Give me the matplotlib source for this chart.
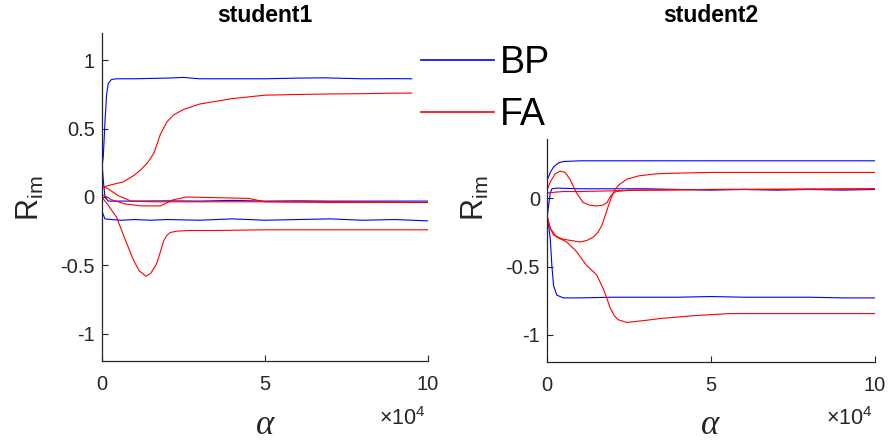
import numpy as np
import matplotlib
matplotlib.use('Agg')
import matplotlib.pyplot as plt
from matplotlib.lines import Line2D

plt.rcParams['font.family'] = ['Liberation Sans', 'DejaVu Sans']
plt.rcParams['mathtext.fontset'] = 'custom'
plt.rcParams['mathtext.rm'] = 'Liberation Sans'
plt.rcParams['mathtext.it'] = 'Liberation Sans:italic'
plt.rcParams['axes.unicode_minus'] = False

# alpha in units of 1e4, R_im values
# ---- student1 ----
s1_bp_top_x = [0, 0.05, 0.1, 0.15, 0.2, 0.3, 0.45, 1, 2, 2.5, 3, 4, 5, 6, 6.8, 8, 9, 9.5]
s1_bp_top_y = [0.20, 0.30, 0.55, 0.75, 0.83, 0.86, 0.865, 0.865, 0.87, 0.875, 0.865, 0.865, 0.865, 0.87, 0.872, 0.865, 0.866, 0.865]
s1_bp_mid_x = [0, 0.05, 0.1, 0.2, 0.4, 1, 2, 3, 4, 5, 6, 7, 8, 9, 10]
s1_bp_mid_y = [0.28, 0.12, 0.0, -0.03, -0.03, -0.03, -0.028, -0.03, -0.025, -0.03, -0.028, -0.03, -0.03, -0.03, -0.03]
s1_bp_low_x = [0, 0.1, 0.3, 0.6, 1, 1.5, 2, 3, 4, 5, 6, 7, 8, 9, 10]
s1_bp_low_y = [-0.10, -0.16, -0.165, -0.17, -0.165, -0.17, -0.165, -0.17, -0.16, -0.17, -0.165, -0.16, -0.17, -0.165, -0.175]

s1_fa_top_x = [0, 0.3, 0.66, 1.0, 1.2, 1.4, 1.6, 1.8, 2.0, 2.2, 2.5, 3.0, 3.5, 4.0, 5, 6, 7, 8, 9, 9.5]
s1_fa_top_y = [0.07, 0.09, 0.11, 0.16, 0.20, 0.25, 0.32, 0.46, 0.55, 0.60, 0.64, 0.68, 0.70, 0.72, 0.745, 0.75, 0.754, 0.756, 0.76, 0.76]
s1_fa_mida_x = [0, 0.2, 0.5, 0.9, 1.5, 3, 5, 7, 10]
s1_fa_mida_y = [0.08, 0.06, 0.01, -0.03, -0.035, -0.035, -0.035, -0.04, -0.04]
s1_fa_midb_x = [0, 0.3, 0.7, 1.2, 1.8, 2.2, 2.6, 3.5, 4.5, 5, 7, 10]
s1_fa_midb_y = [0.02, -0.02, -0.05, -0.065, -0.065, -0.02, 0.0, -0.005, -0.01, -0.035, -0.035, -0.04]
s1_fa_low_x = [0, 0.2, 0.46, 0.7, 0.97, 1.15, 1.35, 1.5, 1.68, 1.8, 1.9, 2.0, 2.1, 2.3, 2.7, 3.5, 5, 7, 10]
s1_fa_low_y = [0.0, -0.06, -0.15, -0.30, -0.46, -0.54, -0.58, -0.56, -0.49, -0.40, -0.32, -0.28, -0.26, -0.25, -0.245, -0.245, -0.24, -0.24, -0.24]

# ---- student2 ----
s2_bp_top_x = [0, 0.1, 0.2, 0.35, 0.5, 1, 2, 3, 4, 5, 6, 7, 8, 9, 10]
s2_bp_top_y = [0.13, 0.19, 0.23, 0.26, 0.27, 0.275, 0.275, 0.275, 0.275, 0.275, 0.275, 0.275, 0.275, 0.275, 0.275]
s2_bp_mid_x = [0, 0.05, 0.1, 0.15, 0.3, 1, 2, 3, 4, 5, 6, 7, 8, 9, 10]
s2_bp_mid_y = [-0.15, -0.05, 0.04, 0.07, 0.075, 0.07, 0.07, 0.07, 0.065, 0.06, 0.065, 0.06, 0.065, 0.06, 0.065]
s2_bp_low_x = [0, 0.05, 0.1, 0.15, 0.2, 0.3, 0.5, 1, 2, 3, 4, 5, 6, 7, 8, 9, 10]
s2_bp_low_y = [-0.15, -0.2, -0.30, -0.50, -0.64, -0.71, -0.73, -0.73, -0.725, -0.725, -0.725, -0.72, -0.725, -0.725, -0.725, -0.73, -0.73]

s2_fa_flat_x = [0, 0.5, 1, 2, 3, 5, 7, 10]
s2_fa_flat_y = [0.04, 0.05, 0.05, 0.055, 0.06, 0.065, 0.065, 0.07]
s2_fa_hump_x = [0, 0.1, 0.25, 0.4, 0.55, 0.7, 0.9, 1.1, 1.3, 1.52, 1.7, 1.83, 1.95, 2.1, 2.5, 3, 5, 10]
s2_fa_hump_y = [0.06, 0.12, 0.18, 0.20, 0.19, 0.14, 0.04, -0.03, -0.05, -0.056, -0.05, -0.03, 0.02, 0.05, 0.06, 0.06, 0.065, 0.07]
s2_fa_dip_x = [0, 0.1, 0.2, 0.5, 1.0, 1.2, 1.41, 1.55, 1.67, 1.77, 1.87, 1.97, 2.07, 2.2, 2.43, 2.8, 3.34, 4, 5, 7, 10]
s2_fa_dip_y = [-0.12, -0.22, -0.27, -0.30, -0.32, -0.31, -0.285, -0.25, -0.2, -0.13, -0.056, 0.01, 0.065, 0.10, 0.14, 0.165, 0.18, 0.185, 0.19, 0.19, 0.19]
s2_fa_low_x = [0, 0.1, 0.3, 0.6, 0.9, 1.2, 1.51, 1.71, 1.82, 1.92, 2.05, 2.17, 2.43, 3.0, 3.5, 4.5, 5.57, 7, 10]
s2_fa_low_y = [-0.15, -0.22, -0.285, -0.32, -0.39, -0.49, -0.56, -0.66, -0.73, -0.80, -0.86, -0.89, -0.91, -0.895, -0.88, -0.86, -0.845, -0.845, -0.845]

titles = ['student1', 'student2']
legend_labels = ['BP', 'FA']

W, H = 890, 443
fig = plt.figure(figsize=(W / 100, H / 100), dpi=100)

def px(x0, y0, x1, y1):
    # pixel box -> figure rect
    return [x0 / W, 1 - y1 / H, (x1 - x0) / W, (y1 - y0) / H]

ax1 = fig.add_axes(px(101.7, 33, 428, 361))
ax2 = fig.add_axes(px(547, 139, 875, 362))

lw = 0.8
for x, y in [(s1_bp_top_x, s1_bp_top_y), (s1_bp_mid_x, s1_bp_mid_y), (s1_bp_low_x, s1_bp_low_y)]:
    ax1.plot(x, y, color='b', lw=lw)
for x, y in [(s1_fa_top_x, s1_fa_top_y), (s1_fa_mida_x, s1_fa_mida_y),
             (s1_fa_midb_x, s1_fa_midb_y), (s1_fa_low_x, s1_fa_low_y)]:
    ax1.plot(x, y, color='r', lw=lw)

for x, y in [(s2_bp_top_x, s2_bp_top_y), (s2_bp_mid_x, s2_bp_mid_y), (s2_bp_low_x, s2_bp_low_y)]:
    ax2.plot(x, y, color='b', lw=lw)
for x, y in [(s2_fa_flat_x, s2_fa_flat_y), (s2_fa_hump_x, s2_fa_hump_y),
             (s2_fa_dip_x, s2_fa_dip_y), (s2_fa_low_x, s2_fa_low_y)]:
    ax2.plot(x, y, color='r', lw=lw)

ax1.set_ylim(-1.2, 1.2)
ax1.set_yticks([-1, -0.5, 0, 0.5, 1])
ax1.set_yticklabels(['-1', '-0.5', '0', '0.5', '1'])
ax2.set_ylim(-1.2, 0.435)
ax2.set_yticks([-1, -0.5, 0])
ax2.set_yticklabels(['-1', '-0.5', '0'])

grey = '#262626'
for ax in (ax1, ax2):
    ax.set_xlim(0, 10)
    ax.set_xticks([0, 5, 10])
    ax.set_xticklabels(['0', '5', '10'])
    for s in ('top', 'right'):
        ax.spines[s].set_visible(False)
    for s in ('left', 'bottom'):
        ax.spines[s].set_color(grey)
        ax.spines[s].set_linewidth(0.9)
    ax.tick_params(direction='in', length=4, width=0.8, colors=grey, labelsize=14.5)
    ax.tick_params(axis='x', pad=10)
    ax.tick_params(axis='y', pad=5)

# titles, labels
for cx, t in zip([265, 711], titles):
    fig.text(cx / W, 1 - 16 / H, t, ha='center', va='center', fontsize=16.5, fontweight='bold')
for cx in [265, 710]:
    fig.text(cx / W, 1 - 434 / H, '\u03b1', ha='center', va='baseline', fontsize=25,
             family='Liberation Serif', style='italic', color=grey)
for rx in [426, 873]:
    fig.text(rx / W, 1 - 425 / H, r'$\times$10$^{4}$', ha='right', va='baseline',
             fontsize=15.5, color=grey)
for cx, cy in [(30, 198), (475, 198)]:
    fig.text(cx / W, 1 - cy / H, r'R$_{\mathrm{im}}$', ha='center', va='center',
             rotation=90, fontsize=22, color=grey)

handles = [Line2D([], [], color='b', lw=1.2), Line2D([], [], color='r', lw=1.2)]
fig.legend(handles, legend_labels, loc='upper left', bbox_to_anchor=(421 / W, 1 - 45 / H),
           frameon=False, fontsize=27, handlelength=1.95, handletextpad=0.15,
           labelspacing=0.42, borderpad=0, borderaxespad=0)

fig.savefig('out.png', dpi=100, facecolor='white')
